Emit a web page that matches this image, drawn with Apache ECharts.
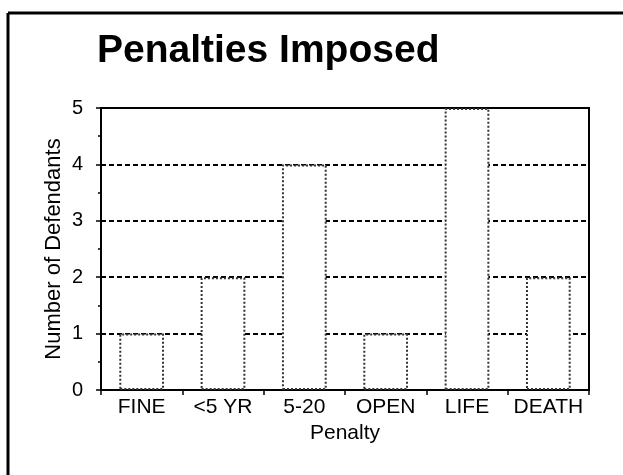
<!DOCTYPE html>
<html>
<head>
<meta charset="utf-8">
<script src="https://cdn.jsdelivr.net/npm/echarts@6/dist/echarts.min.js"></script>
<style>
  html, body { margin: 0; padding: 0; background: #fff; }
  #chart { width: 623px; height: 475px; }
</style>
</head>
<body>
<div id="chart"></div>
<script>
// 数据
const categories = ["FINE", "<5 YR", "5-20", "OPEN", "LIFE", "DEATH"];
const defendants = [1, 2, 4, 1, 5, 2];
const yTicks = [0, 1, 2, 3, 4, 5];

const font = "'Liberation Sans', Arial, sans-serif";
const chart = echarts.init(document.getElementById("chart"));

const option = {
  backgroundColor: "#ffffff",
  animation: false,
  title: {
    text: "Penalties Imposed",
    left: 92,
    top: 27,
    textStyle: { fontFamily: font, fontSize: 39, fontWeight: "bold", color: "#000" }
  },
  // 外框
  graphic: [
    { type: "line", shape: { x1: 8, y1: 13, x2: 623, y2: 13 }, style: { stroke: "#000", lineWidth: 3 } },
    { type: "line", shape: { x1: 8, y1: 13, x2: 8, y2: 475 }, style: { stroke: "#000", lineWidth: 3 } }
  ],
  grid: {
    left: 101, top: 108, right: 34, bottom: 85,
    show: true, borderColor: "#000", borderWidth: 2, backgroundColor: "transparent"
  },
  xAxis: {
    type: "category",
    data: categories,
    name: "Penalty",
    nameLocation: "middle",
    nameGap: 33,
    nameMoveOverlap: false,
    nameTextStyle: { fontFamily: font, fontSize: 21, color: "#000" },
    axisLine: { lineStyle: { color: "#000", width: 2 } },
    axisTick: { show: true, length: 5, alignWithLabel: false, lineStyle: { color: "#000", width: 1.5 } },
    axisLabel: { fontFamily: font, fontSize: 21, color: "#000", margin: 7, interval: 0 },
    splitLine: { show: false }
  },
  yAxis: {
    type: "value",
    min: 0,
    max: 5,
    interval: 1,
    name: "Number of Defendants",
    nameLocation: "middle",
    nameGap: 36,
    nameMoveOverlap: false,
    nameTextStyle: { fontFamily: font, fontSize: 22, color: "#000" },
    axisLine: { show: true, lineStyle: { color: "#000", width: 2 } },
    axisTick: { show: true, length: 5, lineStyle: { color: "#000", width: 1.5 } },
    minorTick: { show: true, splitNumber: 2, length: 3, lineStyle: { color: "#000", width: 1.5 } },
    axisLabel: {
      fontFamily: font, fontSize: 20, color: "#000", margin: 18,
      formatter: v => (yTicks.includes(v) ? String(v) : "")
    },
    splitLine: { show: true, lineStyle: { color: "#000", width: 1.8, type: [5, 3] } }
  },
  series: [
    {
      type: "bar",
      data: defendants,
      barWidth: "55%",
      itemStyle: {
        color: "#ffffff",
        borderColor: "#333",
        borderWidth: 2,
        borderType: "dotted"
      }
    }
  ]
};

chart.setOption(option);
</script>
</body>
</html>
